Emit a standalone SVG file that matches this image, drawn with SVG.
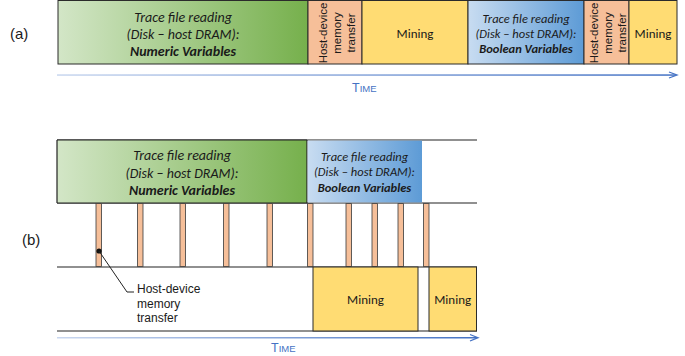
<svg xmlns="http://www.w3.org/2000/svg" width="685" height="356" viewBox="0 0 685 356">
<defs>
  <linearGradient id="gGreen" x1="0" y1="0" x2="1" y2="0">
    <stop offset="0" stop-color="#d3e6c7"/>
    <stop offset="1" stop-color="#76b04c"/>
  </linearGradient>
  <linearGradient id="gBlue" x1="0" y1="0" x2="1" y2="0">
    <stop offset="0" stop-color="#c8dcf1"/>
    <stop offset="1" stop-color="#5d9bd6"/>
  </linearGradient>
  <linearGradient id="gArrow" x1="0" y1="0" x2="1" y2="0">
    <stop offset="0" stop-color="#c9d7ef"/>
    <stop offset="1" stop-color="#4472c4"/>
  </linearGradient>
  <style>
    .box { stroke: #2b2b2b; stroke-width: 1; }
    .green { fill: url(#gGreen); }
    .blue { fill: url(#gBlue); }
    .orange { fill: #f6bf99; }
    .yellow { fill: #ffdc73; }
    .bar { fill: #f6bf99; stroke: #3a3a3a; stroke-width: 0.8; }
    .rule { stroke: #222; stroke-width: 1.2; fill: none; }
    .cal { font-family: Carlito, Lato, "Open Sans", sans-serif; fill: #1a1a1a; text-anchor: middle; }
    .it { font-style: italic; }
    .bi { font-style: italic; font-weight: bold; }
    .ar { font-family: "Liberation Sans", Arial, sans-serif; fill: #1a1a1a; }
    .rot { font-family: "Liberation Sans", Arial, sans-serif; font-size: 11.5px; fill: #1a1a1a; text-anchor: middle; }
    .time { font-family: "Liberation Sans", Arial, sans-serif; fill: #4472c4; }
    .head { fill: none; stroke: #4472c4; stroke-width: 1.3; }
  </style>
</defs>

<!-- (a) -->
<text class="ar" x="10" y="39" font-size="15">(a)</text>

<g id="a-numeric">
  <rect class="green box" x="58" y="0.5" width="250" height="63.5"/>
  <text class="cal it" font-size="14" x="183" y="22">Trace file reading</text>
  <text class="cal it" font-size="14" x="183" y="39">(Disk – host DRAM):</text>
  <text class="cal bi" font-size="14" x="183" y="56">Numeric Variables</text>
</g>
<g id="a-transfer1">
  <rect class="orange box" x="308" y="0.5" width="54" height="63.5"/>
  <text class="rot" transform="translate(327,33) rotate(-90)"><tspan x="0" y="0">Host-device</tspan><tspan x="0" y="14">memory</tspan><tspan x="0" y="28">transfer</tspan></text>
</g>
<g id="a-mining1">
  <rect class="yellow box" x="362" y="0.5" width="106" height="63.5"/>
  <text class="cal" font-size="13" x="415" y="38">Mining</text>
</g>
<g id="a-boolean">
  <rect class="blue box" x="468" y="0.5" width="116" height="63.5"/>
  <text class="cal it" font-size="12.5" x="526" y="23">Trace file reading</text>
  <text class="cal it" font-size="12.5" x="526" y="38">(Disk – host DRAM):</text>
  <text class="cal bi" font-size="12.5" x="526" y="53">Boolean Variables</text>
</g>
<g id="a-transfer2">
  <rect class="orange box" x="584" y="0.5" width="45" height="63.5"/>
  <text class="rot" transform="translate(598,33) rotate(-90)"><tspan x="0" y="0">Host-device</tspan><tspan x="0" y="14">memory</tspan><tspan x="0" y="28">transfer</tspan></text>
</g>
<g id="a-mining2">
  <rect class="yellow box" x="629" y="0.5" width="48" height="63.5"/>
  <text class="cal" font-size="13" x="653" y="38">Mining</text>
</g>

<g id="a-time">
  <rect x="57" y="74.3" width="619" height="1.5" fill="url(#gArrow)"/>
  <polyline class="head" points="669,72 677,75 669,78"/>
  <text class="time" x="352" y="92"><tspan font-size="12.5">T</tspan><tspan font-size="9.5">IME</tspan></text>
</g>

<!-- (b) -->
<text class="ar" x="22" y="245" font-size="15">(b)</text>

<g id="b-rules">
  <line class="rule" x1="57" y1="140" x2="477" y2="140"/>
  <line class="rule" x1="57" y1="203" x2="477" y2="203"/>
  <line class="rule" x1="57" y1="267" x2="477" y2="267"/>
  <line class="rule" x1="57" y1="331" x2="477" y2="331"/>
</g>

<g id="b-numeric">
  <rect class="green" x="57" y="140" width="250" height="63"/>
  <line class="rule" x1="57" y1="140" x2="57" y2="203"/>
  <line class="rule" x1="307" y1="140" x2="307" y2="203"/>
  <line class="rule" x1="57" y1="140" x2="307" y2="140"/>
  <line class="rule" x1="57" y1="203" x2="307" y2="203"/>
  <text class="cal it" font-size="14" x="182" y="160">Trace file reading</text>
  <text class="cal it" font-size="14" x="182" y="178">(Disk – host DRAM):</text>
  <text class="cal bi" font-size="14" x="182" y="195">Numeric Variables</text>
</g>
<g id="b-boolean">
  <rect class="blue" x="307.6" y="140.6" width="114.4" height="61.8"/>
  <text class="cal it" font-size="12.5" x="364.5" y="161">Trace file reading</text>
  <text class="cal it" font-size="12.5" x="364.5" y="176">(Disk – host DRAM):</text>
  <text class="cal bi" font-size="12.5" x="364.5" y="192">Boolean Variables</text>
</g>

<g id="b-transfers">
  <rect class="bar" x="96" y="203.6" width="5.5" height="62.8"/>
  <rect class="bar" x="137.5" y="203.6" width="5.5" height="62.8"/>
  <rect class="bar" x="180" y="203.6" width="5.5" height="62.8"/>
  <rect class="bar" x="223.5" y="203.6" width="5.5" height="62.8"/>
  <rect class="bar" x="267" y="203.6" width="5.5" height="62.8"/>
  <rect class="bar" x="307.5" y="203.6" width="5.5" height="62.8"/>
  <rect class="bar" x="346" y="203.6" width="5.5" height="62.8"/>
  <rect class="bar" x="372" y="203.6" width="5.5" height="62.8"/>
  <rect class="bar" x="398" y="203.6" width="5.5" height="62.8"/>
  <rect class="bar" x="423.5" y="203.6" width="5.5" height="62.8"/>
</g>

<g id="b-mining1">
  <rect class="yellow box" x="313" y="267" width="105" height="64"/>
  <text class="cal" font-size="13" x="365.5" y="304">Mining</text>
</g>
<g id="b-mining2">
  <rect class="yellow box" x="429" y="267" width="47.5" height="64"/>
  <text class="cal" font-size="13" x="452.7" y="304">Mining</text>
</g>

<g id="b-callout">
  <circle cx="99" cy="251" r="2.6" fill="#111"/>
  <polyline points="99,251 127,292 134,292" fill="none" stroke="#222" stroke-width="1"/>
  <text class="ar" font-size="12"><tspan x="137" y="293">Host-device</tspan><tspan x="137" y="307.5">memory</tspan><tspan x="137" y="322">transfer</tspan></text>
</g>

<g id="b-time">
  <rect x="57" y="337" width="420" height="1.5" fill="url(#gArrow)"/>
  <polyline class="head" points="470,334.5 478,337.7 470,341"/>
  <text class="time" x="271" y="352"><tspan font-size="12.5">T</tspan><tspan font-size="9.5">IME</tspan></text>
</g>
</svg>
